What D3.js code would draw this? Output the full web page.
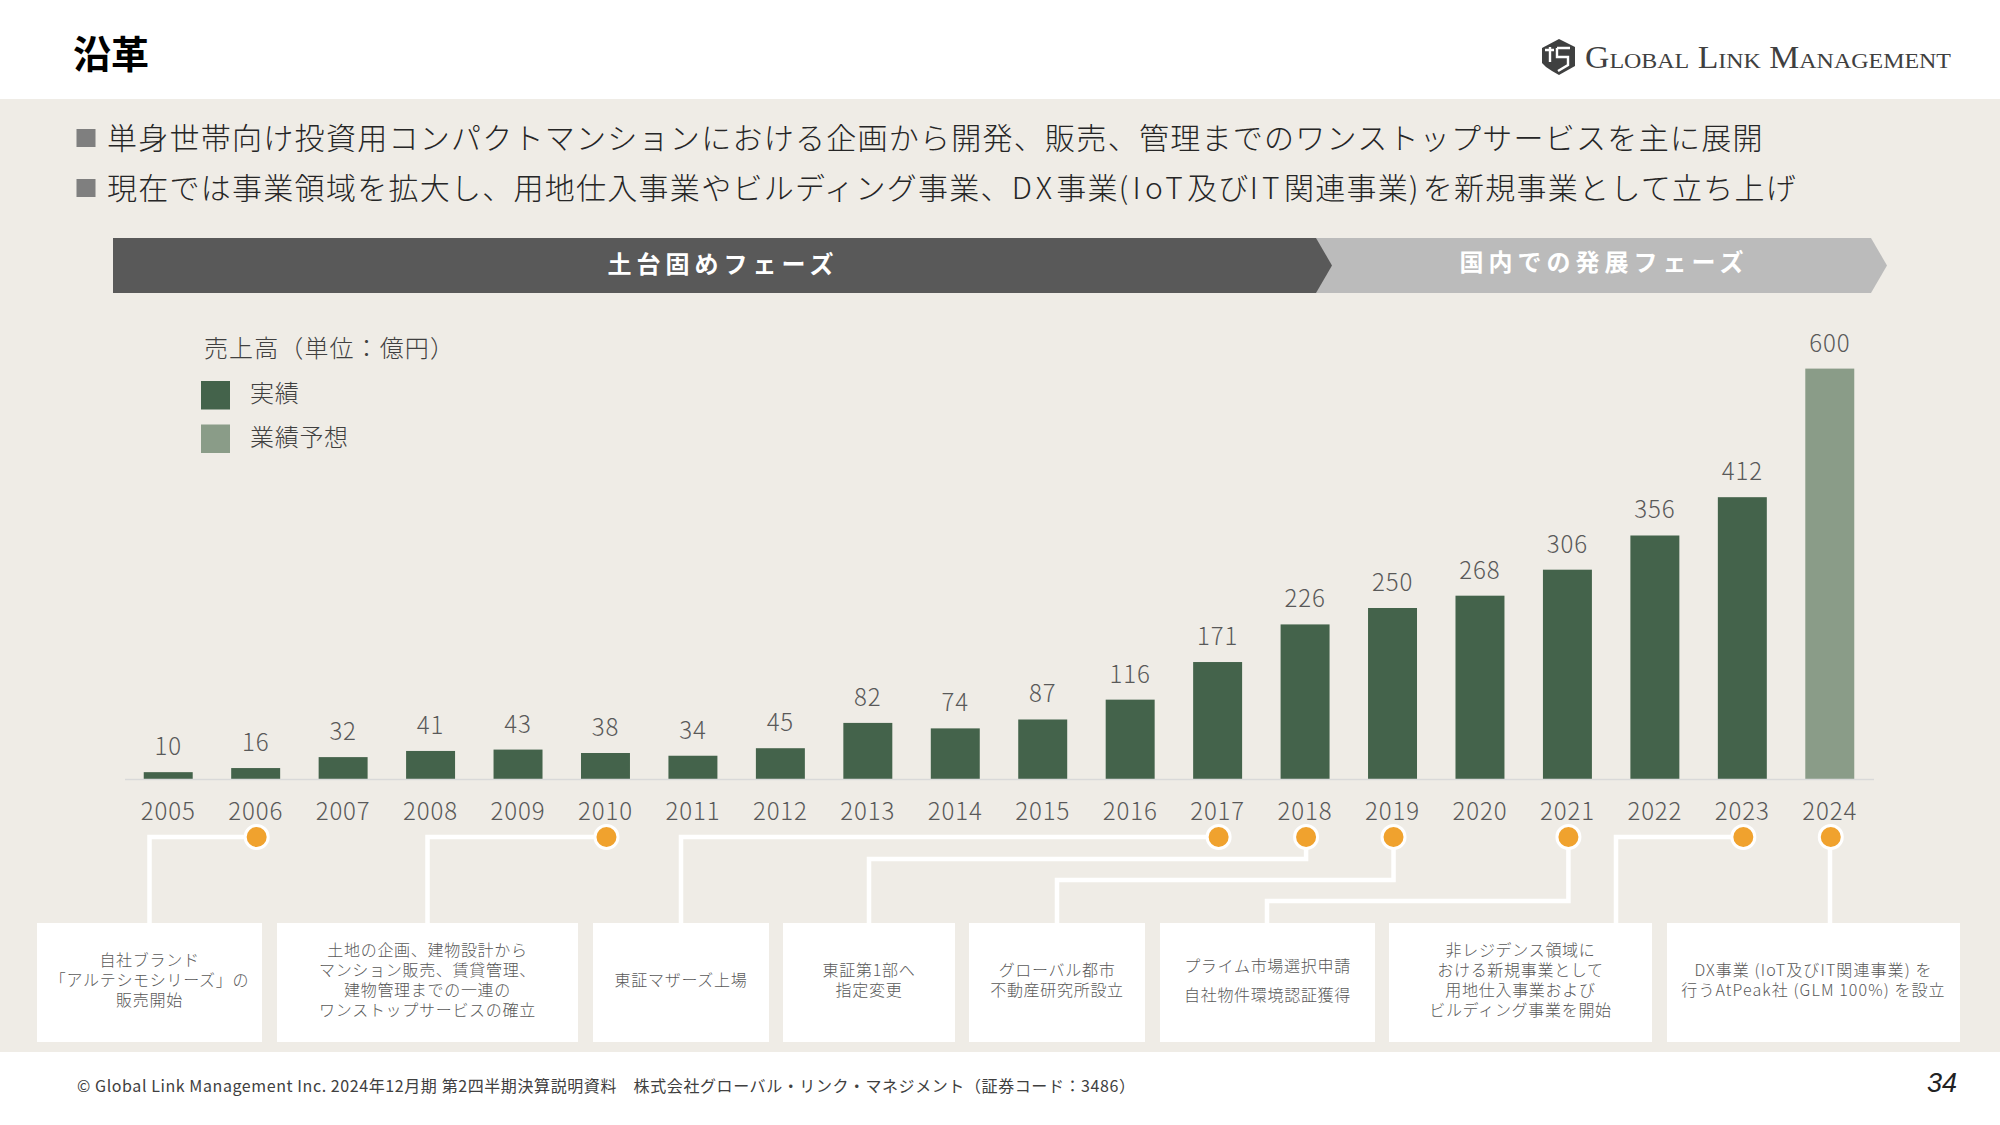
<!DOCTYPE html>
<html lang="ja">
<head>
<meta charset="utf-8">
<title>沿革</title>
<script src="https://cdnjs.cloudflare.com/ajax/libs/d3/7.8.5/d3.min.js"></script>
<style>
  html, body { margin: 0; padding: 0; background: #fff; overflow: hidden; }
  text { font-family: "Noto Sans CJK JP", "Noto Sans", sans-serif; }
</style>
</head>
<body>
<div id="chart"></div>
<script>
// Chart data
const years = [2005, 2006, 2007, 2008, 2009, 2010, 2011, 2012, 2013, 2014, 2015, 2016, 2017, 2018, 2019, 2020, 2021, 2022, 2023, 2024];
const sales = [10, 16, 32, 41, 43, 38, 34, 45, 82, 74, 87, 116, 171, 226, 250, 268, 306, 356, 412, 600];
const forecastYears = [2024];

const milestoneYears = [2006, 2010, 2017, 2018, 2019, 2021, 2023, 2024];
const milestoneTexts = [
  ['自社ブランド', '「アルテシモシリーズ」の', '販売開始'],
  ['土地の企画、建物設計から', 'マンション販売、賃貸管理、', '建物管理までの一連の', 'ワンストップサービスの確立'],
  ['東証マザーズ上場'],
  ['東証第1部へ', '指定変更'],
  ['グローバル都市', '不動産研究所設立'],
  ['プライム市場選択申請', '自社物件環境認証獲得'],
  ['非レジデンス領域に', 'おける新規事業として', '用地仕入事業および', 'ビルディング事業を開始'],
  ['DX事業 (IoT及びIT関連事業) を', '行うAtPeak社 (GLM 100%) を設立']
];

const bullets = [
  '単身世帯向け投資用コンパクトマンションにおける企画から開発、販売、管理までのワンストップサービスを主に展開',
  '現在では事業領域を拡大し、用地仕入事業やビルディング事業、DX事業(IoT及びIT関連事業)を新規事業として立ち上げ'
];
const legendLabels = ['実績', '業績予想'];

// Layout, kept apart from the data
const width = 2000;
const height = 1125;
const baseline = 779;
const boxTop = 923;
const boxBottom = 1042;
const boxEdges = [[37, 262], [277, 578], [593, 769], [783, 955], [969, 1145], [1160, 1375], [1389, 1652], [1667, 1960]];
const boxDropX = [149.5, 427.5, 681, 869, 1057, 1267, 1616, 1830];
const elbowY = [837, 837, 837, 859, 880, 901, 837, 837];

const darkGreen = '#44634b';
const lightGreen = '#8a9c88';
const textGrey = '#595959';
const textDark = '#404040';

const svg = d3.select('#chart').append('svg')
  .attr('width', width)
  .attr('height', height)
  .style('display', 'block');

// Background bands
svg.append('rect').attr('width', width).attr('height', height).attr('fill', '#fff');
svg.append('rect').attr('y', 99).attr('width', width).attr('height', 953).attr('fill', '#efece6');

// Header
svg.append('text').attr('x', 73).attr('y', 68)
  .attr('font-size', 38).attr('font-weight', 700).attr('fill', '#000')
  .text('沿革');

// Logo mark
const logo = svg.append('g').attr('transform', 'translate(1542,39)');
logo.append('path')
  .attr('d', 'M17 0L33 8V27L17 36L10 32L4 28L0 24V9Z')
  .attr('fill', '#3f4040');
logo.append('path')
  .attr('d', 'M8 8V23M3 11H12M15 9H28M15 9V18H26V26L16 32')
  .attr('fill', 'none').attr('stroke', '#fff').attr('stroke-width', 2.4);
svg.append('text').attr('x', 1585).attr('y', 68)
  .attr('textLength', 366).attr('lengthAdjust', 'spacingAndGlyphs')
  .style('font-family', '"Liberation Serif", serif')
  .style('font-variant', 'small-caps')
  .attr('font-size', 31).attr('fill', textDark)
  .text('Global Link Management');

// Bullets: Latin runs are set wider than the Japanese text
bullets.forEach((line, i) => {
  const cy = 138.5 + i * 50;
  svg.append('rect').attr('x', 76.5).attr('y', cy - 9.5).attr('width', 19).attr('height', 18).attr('fill', '#7f7f7f');
  const label = svg.append('text').attr('x', 107).attr('y', cy + 10)
    .attr('font-size', 30).attr('font-weight', 300).attr('fill', '#262626');
  line.split(/([A-Za-z()]+)/).filter(s => s).forEach(part => {
    label.append('tspan')
      .attr('letter-spacing', /^[A-Za-z()]/.test(part) ? 4.3 : 1.27)
      .text(part);
  });
});

// Phase arrows
svg.append('path').attr('d', 'M1300 238H1871L1887 265.5L1871 293H1300Z').attr('fill', '#bbbbbb');
svg.append('path').attr('d', 'M113 238H1316L1332 265.5L1316 293H113Z').attr('fill', '#595959');
svg.append('text').attr('x', 723).attr('y', 273)
  .attr('text-anchor', 'middle').attr('font-size', 24).attr('font-weight', 700)
  .attr('letter-spacing', 5).attr('fill', '#fff').text('土台固めフェーズ');
svg.append('text').attr('x', 1604).attr('y', 271)
  .attr('text-anchor', 'middle').attr('font-size', 24).attr('font-weight', 700)
  .attr('letter-spacing', 5).attr('fill', '#fff').text('国内での発展フェーズ');

// Legend
svg.append('text').attr('x', 204).attr('y', 357)
  .attr('font-size', 24).attr('font-weight', 300).attr('fill', textDark)
  .attr('letter-spacing', 1.1)
  .text('売上高（単位：億円）');
legendLabels.forEach((label, i) => {
  const y = 381 + i * 43.5;
  svg.append('rect').attr('x', 201).attr('y', y).attr('width', 29).attr('height', 28.5)
    .attr('fill', i === 0 ? darkGreen : lightGreen);
  svg.append('text').attr('x', 250).attr('y', y + 21)
    .attr('font-size', 24).attr('font-weight', 300).attr('fill', textDark)
    .attr('letter-spacing', 0.7)
    .text(label);
});

// Scales
const xScale = d3.scaleBand()
  .domain(years)
  .range([124.5, 1873.5])
  .paddingInner(0.44)
  .paddingOuter(0.22);
const yScale = d3.scaleLinear()
  .domain([0, 600])
  .range([baseline, 368.6]);
const xCenter = y => xScale(y) + xScale.bandwidth() / 2;

// Bars
svg.selectAll('.bar')
  .data(years)
  .enter()
  .append('rect')
  .attr('class', 'bar')
  .attr('x', d => xScale(d))
  .attr('y', (d, i) => yScale(sales[i]))
  .attr('width', xScale.bandwidth())
  .attr('height', (d, i) => baseline - yScale(sales[i]))
  .attr('fill', d => forecastYears.includes(d) ? lightGreen : darkGreen);

// Value labels
svg.selectAll('.value')
  .data(years)
  .enter()
  .append('text')
  .attr('class', 'value')
  .attr('x', d => xCenter(d))
  .attr('y', (d, i) => yScale(sales[i]) - 17)
  .attr('text-anchor', 'middle')
  .attr('font-size', 24).attr('font-weight', 300).attr('fill', textGrey)
  .attr('letter-spacing', 0.9)
  .text((d, i) => sales[i]);

// Year axis
const xAxis = d3.axisBottom(xScale).tickSize(0).tickFormat(d => d);
const axisG = svg.append('g')
  .attr('transform', `translate(0,${baseline})`)
  .call(xAxis);
axisG.select('.domain').attr('stroke', '#d9d9d9').attr('stroke-width', 1.5);
axisG.selectAll('text')
  .attr('y', 24)
  .style('font-family', '"Noto Sans CJK JP", sans-serif')
  .attr('font-size', 24).attr('font-weight', 300).attr('fill', textGrey)
  .attr('letter-spacing', 0.9);

// Connectors from the dots down to the boxes
const connector = d3.line();
milestoneYears.forEach((year, i) => {
  const dotX = xCenter(year) + 1;
  const dropX = boxDropX[i];
  const points = Math.abs(dropX - dotX) < 2
    ? [[dropX, 837], [dropX, boxTop]]
    : [[dotX, 837], [dotX, elbowY[i]], [dropX, elbowY[i]], [dropX, boxTop]];
  svg.append('path')
    .attr('d', connector(points))
    .attr('fill', 'none').attr('stroke', '#fff').attr('stroke-width', 4.5);
});

// Milestone dots
svg.selectAll('.dot')
  .data(milestoneYears)
  .enter()
  .append('circle')
  .attr('class', 'dot')
  .attr('cx', d => xCenter(d) + 1)
  .attr('cy', 837)
  .attr('r', 11.5)
  .attr('fill', '#f0a22e')
  .attr('stroke', '#fff')
  .attr('stroke-width', 3);

// Milestone boxes
milestoneTexts.forEach((lines, i) => {
  const [left, right] = boxEdges[i];
  svg.append('rect')
    .attr('x', left).attr('y', boxTop)
    .attr('width', right - left).attr('height', boxBottom - boxTop)
    .attr('fill', '#fff');
  const gap = i === 5 ? 29 : 20;
  const firstY = 980.5 - (lines.length - 1) * gap / 2;
  lines.forEach((line, j) => {
    svg.append('text')
      .attr('x', (left + right) / 2)
      .attr('y', firstY + j * gap)
      .attr('dy', '0.35em')
      .attr('text-anchor', 'middle')
      .attr('font-size', 16).attr('font-weight', 300)
      .attr('letter-spacing', i === 7 ? 1.1 : 0.7).attr('fill', textGrey)
      .text(line);
  });
});

// Footer
svg.append('text').attr('x', 77).attr('y', 1092)
  .attr('font-size', 16).attr('font-weight', 400).attr('fill', textDark)
  .attr('textLength', 1058).attr('lengthAdjust', 'spacing')
  .text('© Global Link Management Inc. 2024年12月期 第2四半期決算説明資料　株式会社グローバル・リンク・マネジメント（証券コード：3486）');
svg.append('text').attr('x', 1957).attr('y', 1092)
  .attr('text-anchor', 'end').attr('font-size', 27)
  .attr('font-style', 'italic').attr('fill', '#222')
  .style('font-family', '"Liberation Sans", sans-serif')
  .text('34');
</script>
</body>
</html>
